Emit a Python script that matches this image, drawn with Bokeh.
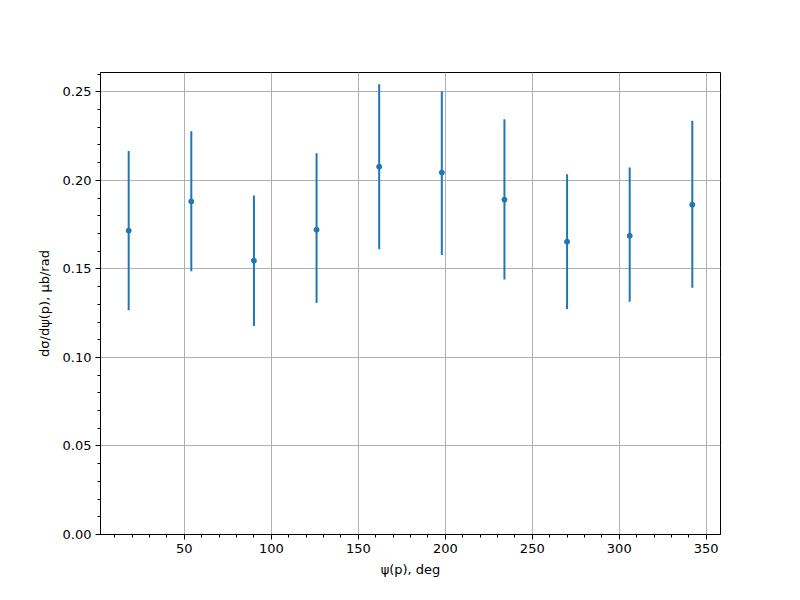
from bokeh.plotting import figure
from bokeh.models import ColumnDataSource, Range1d, SingleIntervalTicker, PrintfTickFormatter
from bokeh.embed import file_html
from bokeh.resources import INLINE

# data
psi_deg = [18, 54, 90, 126, 162, 198, 234, 270, 306, 342]
dsigma = [0.1716, 0.1881, 0.1546, 0.1721, 0.2077, 0.2044, 0.1891, 0.1653, 0.1687, 0.1862]
err_up = [0.0450, 0.0396, 0.0369, 0.0432, 0.0466, 0.0459, 0.0454, 0.0381, 0.0386, 0.0474]
err_down = [0.0450, 0.0394, 0.0368, 0.0413, 0.0466, 0.0466, 0.0451, 0.0379, 0.0373, 0.0469]

lower = [v - e for v, e in zip(dsigma, err_down)]
upper = [v + e for v, e in zip(dsigma, err_up)]
src = ColumnDataSource(dict(x=psi_deg, y=dsigma, lo=lower, hi=upper))

p = figure(width=784, height=584, output_backend="svg", toolbar_location=None,
           x_range=Range1d(1.8, 358.2), y_range=Range1d(0, 0.2609),
           min_border_left=100, min_border_right=64, min_border_top=72, min_border_bottom=50)
p.background_fill_color = "white"
p.border_fill_color = "white"
p.outline_line_color = "black"
p.outline_line_alpha = 1.0
p.outline_line_width = 1

p.segment(x0="x", y0="lo", x1="x", y1="hi", source=src, line_color="#1f77b4", line_width=2)
p.scatter(x="x", y="y", source=src, size=5, color="#1f77b4", line_color="#1f77b4")

p.xaxis.ticker = SingleIntervalTicker(interval=50, num_minor_ticks=5)
p.yaxis.ticker = SingleIntervalTicker(interval=0.05, num_minor_ticks=5)
p.yaxis.formatter = PrintfTickFormatter(format="%.2f")

for ax in (p.xaxis[0], p.yaxis[0]):
    ax.axis_line_color = "black"
    ax.major_tick_line_color = "black"
    ax.minor_tick_line_color = "black"
    ax.major_tick_in = 0
    ax.major_tick_out = 5
    ax.minor_tick_in = 0
    ax.minor_tick_out = 3
    ax.major_label_text_font = "DejaVu Sans"
    ax.major_label_text_font_size = "13px"
    ax.major_label_text_color = "black"
    ax.axis_label_text_font = "DejaVu Sans"
    ax.axis_label_text_font_size = "13px"
    ax.axis_label_text_font_style = "normal"
    ax.axis_label_text_color = "black"

p.xaxis.axis_label = "ψ(p), deg"
p.yaxis.axis_label = "dσ/dψ(p), μb/rad"
p.xaxis.major_label_standoff = 4
p.yaxis.major_label_standoff = 4
p.xaxis.axis_label_standoff = 6
p.yaxis.axis_label_standoff = 8

p.xgrid.grid_line_color = "#b0b0b0"
p.ygrid.grid_line_color = "#b0b0b0"
p.xgrid.grid_line_width = 1
p.ygrid.grid_line_width = 1

open("out.html", "w").write(file_html(p, INLINE))
